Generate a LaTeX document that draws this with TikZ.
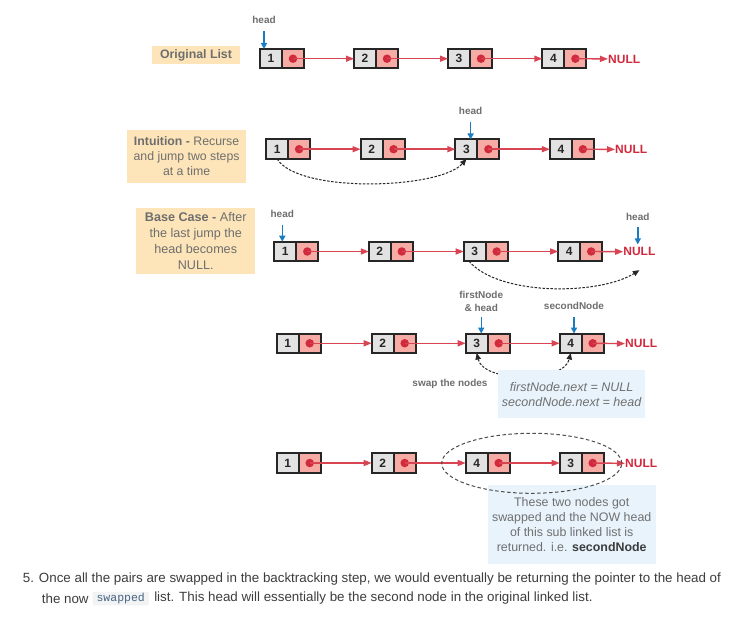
\documentclass[tikz,border=0pt]{standalone}
\usepackage{fontspec}
\setmainfont{Liberation Sans}
\setmonofont{Liberation Mono}
\usetikzlibrary{arrows.meta,shapes.geometric}
\definecolor{lblgrey}{HTML}{6E6E6E}
\definecolor{orangefill}{HTML}{FDE5B9}
\definecolor{bluefill}{HTML}{E8F3FB}
\definecolor{valfill}{HTML}{E2E2E2}
\definecolor{ptrfill}{HTML}{F6ABA4}
\definecolor{bord}{HTML}{262626}
\definecolor{redc}{HTML}{D12A3D}
\definecolor{linkc}{HTML}{D94452}
\definecolor{headblue}{HTML}{1C7CC0}
\definecolor{bodytext}{HTML}{3D3D3D}
\definecolor{codefill}{HTML}{F1F3F5}
\definecolor{codetext}{HTML}{476582}
\definecolor{notetext}{HTML}{707070}
\tikzset{
  valcell/.style={draw=bord, fill=valfill, line width=2pt, minimum width=22pt, minimum height=19.5pt,
    inner sep=0pt, outer sep=0pt, anchor=west, font=\fontsize{12}{13}\selectfont\bfseries, text=black!85},
  ptrcell/.style={draw=bord, fill=ptrfill, line width=2pt, minimum width=22pt, minimum height=19.5pt,
    inner sep=0pt, outer sep=0pt, anchor=west},
  dotn/.style={circle, fill=redc, inner sep=0pt, minimum size=8.5pt},
  link/.style={draw=linkc, line width=1.4pt, -{Triangle[length=8pt,width=6pt]}},
  nulltxt/.style={anchor=west, inner sep=0pt, text=redc, font=\fontsize{12}{14}\selectfont\bfseries},
  lbl/.style={inner sep=0pt, text=lblgrey, font=\fontsize{10}{12.7}\selectfont\bfseries, align=center},
  headarr/.style={draw=headblue, line width=1.4pt, shorten <=7pt, -{Triangle[length=6pt,width=6pt]}},
  notebox/.style={fill=orangefill, inner sep=0pt, text=lblgrey, align=center},
  bluebox/.style={fill=bluefill, inner sep=0pt, text=notetext, align=center},
  dotarrow/.style={draw=black!85, line width=1pt, dash pattern=on 2.5pt off 1.5pt, -{Triangle[length=6.5pt,width=5.5pt]}},
  ringstyle/.style={ellipse, draw=black!70, line width=1pt, dash pattern=on 3.5pt off 2.5pt, inner sep=0pt},
  bodyfont/.style={inner sep=0pt, anchor=west, text=bodytext, font=\fontsize{13.35}{15}\selectfont},
}
\newcommand\lnode[4]{%
  \node[valcell] (#1v) at (#2,#3) {#4};
  \node[ptrcell] (#1p) at (#1v.east) {};
  \node[dotn] (#1d) at (#1p.center) {};
}
\begin{document}
\begin{tikzpicture}[x=1pt,y=-1pt]
\useasboundingbox (0,0) rectangle (740,623);
\fill[white] (0,0) rectangle (740,623);

% ---------- Row 1 ----------
\node[notebox, minimum width=88pt, minimum height=18pt, font=\fontsize{12.3}{14}\selectfont\bfseries] (orig) at (196,55) {Original List};
\lnode{r1a}{260}{58.7}{1}
\lnode{r1b}{354}{58.7}{2}
\lnode{r1c}{448}{58.7}{3}
\lnode{r1d}{542.4}{58.7}{4}
\node[nulltxt] (r1n) at (608,59) {NULL};
\draw[link] (r1ad.center) -- (r1bv);
\draw[link] (r1bd.center) -- (r1cv);
\draw[link] (r1cd.center) -- (r1dv);
\draw[link] (r1dd.center) -- (r1n);
\node[lbl] (h1) at (264,20) {head};
\draw[headarr] (h1) -- (h1 |- r1av.north);

% ---------- Row 2 ----------
\node[notebox, minimum width=119.4pt, minimum height=53pt, font=\fontsize{12.3}{14.7}\selectfont] (intu) at (186.6,156.1)
  {\textbf{Intuition -} Recurse\\and jump two steps\\at a time};
\lnode{r2a}{266.1}{149.2}{1}
\lnode{r2b}{360.6}{149.2}{2}
\lnode{r2c}{455.4}{149.2}{3}
\lnode{r2d}{549.9}{149.2}{4}
\node[nulltxt] (r2n) at (615,149.5) {NULL};
\draw[link] (r2ad.center) -- (r2bv);
\draw[link] (r2bd.center) -- (r2cv);
\draw[link] (r2cd.center) -- (r2dv);
\draw[link] (r2dd.center) -- (r2n);
\node[lbl] (h2) at (470.6,111.3) {head};
\draw[headarr] (h2) -- (h2 |- r2cv.north);
\draw[dotarrow] (r2av.south) .. controls +(22,35) and +(-26,30) .. (r2cv.south);

% ---------- Row 3 ----------
\node[notebox, minimum width=119.1pt, minimum height=66.8pt, font=\fontsize{12.6}{15.8}\selectfont] (base) at (195.75,241)
  {\textbf{Base Case -} After\\the last jump the\\head becomes\\NULL.};
\lnode{r3a}{274.3}{251.5}{1}
\lnode{r3b}{368.8}{251.5}{2}
\lnode{r3c}{463.7}{251.5}{3}
\lnode{r3d}{558.2}{251.5}{4}
\node[nulltxt] (r3n) at (623.2,251.8) {NULL};
\draw[link] (r3ad.center) -- (r3bv);
\draw[link] (r3bd.center) -- (r3cv);
\draw[link] (r3cd.center) -- (r3dv);
\draw[link] (r3dd.center) -- (r3n);
\node[lbl] (h3a) at (282.3,213.8) {head};
\draw[headarr] (h3a) -- (h3a |- r3av.north);
\node[lbl] (h3b) at (637.8,216.6) {head};
\draw[headarr, shorten >=3pt] (h3b) -- (h3b |- r3n.north);
\draw[dotarrow] (r3cv.240) .. controls +(30,35) and +(-40,25) .. ([yshift=-14pt]r3n.south);

% ---------- Row 4 ----------
\lnode{r4a}{276.7}{343.3}{1}
\lnode{r4b}{371.7}{343.3}{2}
\lnode{r4c}{465.7}{343.3}{3}
\lnode{r4d}{559.7}{343.3}{4}
\node[nulltxt] (r4n) at (625,343.8) {NULL};
\draw[link] (r4ad.center) -- (r4bv);
\draw[link] (r4bd.center) -- (r4cv);
\draw[link] (r4cd.center) -- (r4dv);
\draw[link] (r4dd.center) -- (r4n);
\node[lbl] (f4) at (481.2,301.3) {firstNode\\\& head};
\draw[headarr, shorten <=5pt] (f4) -- (f4 |- r4cv.north);
\node[lbl] (s4) at (574,306) {secondNode};
\draw[headarr] (s4) -- (s4 |- r4dv.north);
\draw[dotarrow, {Triangle[length=6.5pt,width=5.5pt]}-{Triangle[length=6.5pt,width=5.5pt]}] (r4cv.south) .. controls +(7,30) and +(-7,30) .. (r4dv.south);
\node[lbl] (swp) at (450,384) {swap the nodes};
\node[bluebox, minimum width=146.7pt, minimum height=48.3pt, font=\fontsize{12.5}{15}\selectfont\itshape] (b4) at (571.65,394.15)
  {firstNode.next = NULL\\secondNode.next = head};

% ---------- Row 5 ----------
\node[bluebox, minimum width=168pt, minimum height=79.3pt, font=\fontsize{12.4}{14.8}\selectfont] (b5) at (571.7,524.65)
  {These two nodes got\\swapped and the NOW head\\of this sub linked list is\\returned. i.e. \textbf{\color{bodytext}secondNode}};
\lnode{r5a}{276.7}{463}{1}
\lnode{r5b}{371.7}{463}{2}
\lnode{r5c}{465.7}{463}{4}
\lnode{r5d}{559.7}{463}{3}
\node[nulltxt] (r5n) at (625,463.5) {NULL};
\draw[link] (r5ad.center) -- (r5bv);
\draw[link] (r5bd.center) -- (r5cv);
\draw[link] (r5cd.center) -- (r5dv);
\draw[link] (r5dd.center) -- (r5n);
\node[ringstyle, minimum width=180pt, minimum height=60pt] (ring) at (531.7,463.3) {};

% ---------- Bottom text ----------
\node[bodyfont] (t1) at (22.7,579) {5. Once all the pairs are swapped in the backtracking step, we would eventually be returning the pointer to the head of};
\node[bodyfont] (t2) at (41.7,598.5) {the now};
\node[anchor=west, fill=codefill, rounded corners=2pt, inner xsep=4pt, minimum height=13.5pt, inner ysep=0pt,
  text=codetext, font=\fontsize{11.5}{12}\ttfamily] (code) at ([xshift=3.5pt]t2.east) {swapped};
\node[bodyfont] (t3) at ([xshift=5pt]code.east) {list. This head will essentially be the second node in the original linked list.};
\end{tikzpicture}
\end{document}
